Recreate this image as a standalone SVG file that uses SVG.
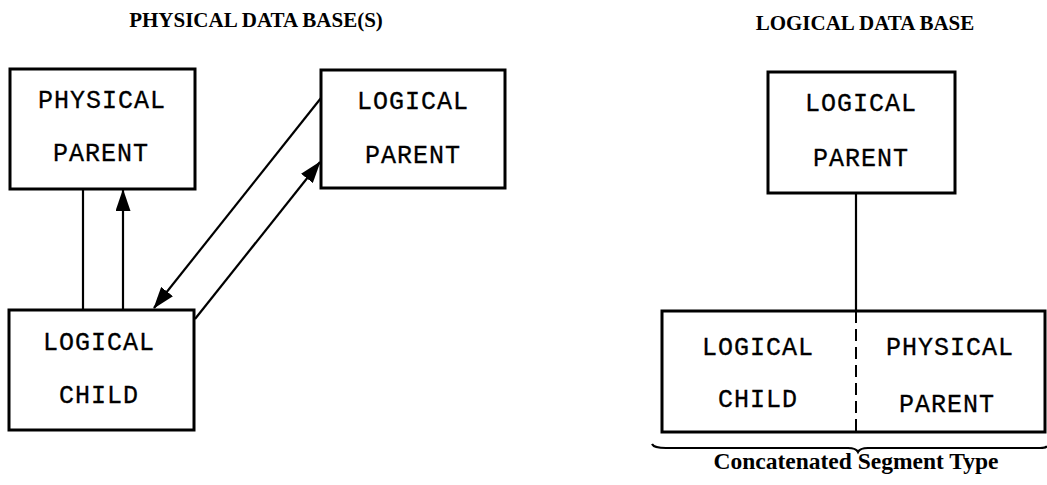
<svg xmlns="http://www.w3.org/2000/svg" width="1047" height="485" viewBox="0 0 1047 485">
<style>
.box{fill:#fff;stroke:#000;stroke-width:3}
.ln{fill:none;stroke:#000;stroke-width:2.2}
.mono{font-family:"Liberation Mono","Courier New",monospace;font-size:25px;letter-spacing:1px;text-anchor:middle;fill:#000;stroke:#000;stroke-width:0.3}
.title{font-family:"Liberation Serif","Times New Roman",serif;font-weight:bold;font-size:21px;text-anchor:middle;fill:#000}
.cap{font-family:"Liberation Serif","Times New Roman",serif;font-weight:bold;font-size:23.5px;text-anchor:middle;fill:#000}
</style>
<defs>
<marker id="ah" viewBox="0 0 22 15" refX="21" refY="7.5" markerWidth="22" markerHeight="15" markerUnits="userSpaceOnUse" orient="auto">
<path d="M0,0 L22,7.5 L0,15 Z" fill="#000"/>
</marker>
</defs>
<rect width="1047" height="485" fill="#fff"/>
<text class="title" x="256" y="27">PHYSICAL DATA BASE(S)</text>
<text class="title" x="865" y="30">LOGICAL DATA BASE</text>
<g id="connectors">
<line class="ln" x1="83" y1="189" x2="83" y2="310"/>
<line class="ln" x1="123" y1="310" x2="123" y2="190" marker-end="url(#ah)"/>
<line class="ln" x1="321" y1="98" x2="154" y2="308" marker-end="url(#ah)"/>
<line class="ln" x1="195" y1="319" x2="320" y2="162" marker-end="url(#ah)"/>
<line class="ln" x1="856" y1="193" x2="856" y2="311"/>
</g>
<g id="physical-parent">
<rect class="box" x="10" y="69" width="185" height="120"/>
<text class="mono" x="102" y="108">PHYSICAL</text>
<text class="mono" x="101" y="161">PARENT</text>
</g>
<g id="logical-parent-1">
<rect class="box" x="321" y="70" width="184" height="118"/>
<text class="mono" x="413" y="109">LOGICAL</text>
<text class="mono" x="413" y="163">PARENT</text>
</g>
<g id="logical-child">
<rect class="box" x="9" y="310" width="185" height="120"/>
<text class="mono" x="99" y="350">LOGICAL</text>
<text class="mono" x="99" y="403">CHILD</text>
</g>
<g id="logical-parent-2">
<rect class="box" x="768" y="72" width="187" height="121"/>
<text class="mono" x="861" y="111">LOGICAL</text>
<text class="mono" x="861" y="166">PARENT</text>
</g>
<g id="concatenated-segment">
<rect class="box" x="662" y="311" width="383" height="121"/>
<line x1="856" y1="311" x2="856" y2="432" stroke="#000" stroke-width="2" stroke-dasharray="12,6"/>
<text class="mono" x="758" y="355">LOGICAL</text>
<text class="mono" x="758" y="407">CHILD</text>
<text class="mono" x="950" y="355">PHYSICAL</text>
<text class="mono" x="947" y="412">PARENT</text>
<path class="ln" d="M652,444 Q654,448 666,448 L848,448 Q856,448 858,452 Q860,448 868,448 L1040,448 Q1046,448 1047,446"/>
<text class="cap" x="856" y="469">Concatenated Segment Type</text>
</g>
</svg>
